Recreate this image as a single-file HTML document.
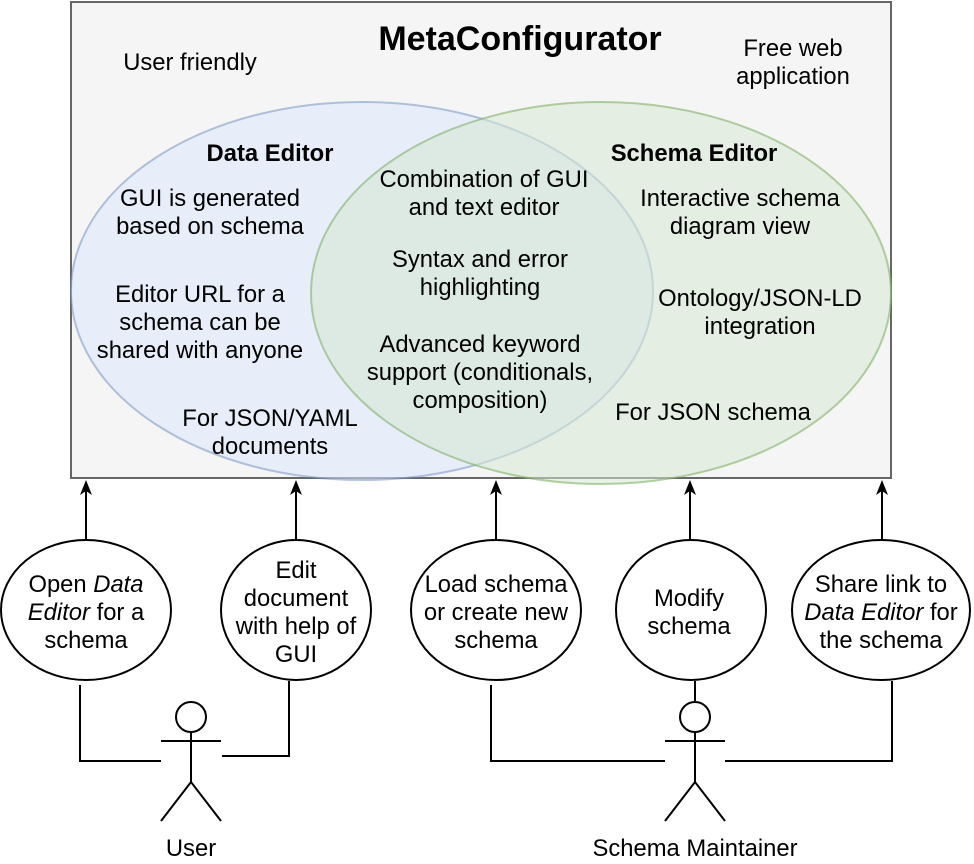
<!DOCTYPE html>
<html><head><meta charset="utf-8"><style>
html,body{margin:0;padding:0;background:#fff;}
svg{display:block;}
text{font-family:"Liberation Sans",Arial,sans-serif;font-size:23.8px;fill:#000;}
</style></head><body>
<svg width="974" height="864" viewBox="0 0 974 864" xmlns="http://www.w3.org/2000/svg">
<rect x="71" y="2" width="820" height="476" fill="#f5f5f5" stroke="#666" stroke-width="2"/>
<ellipse cx="362" cy="291" rx="291" ry="189" fill="#dae8fc" fill-opacity="0.55" stroke="#6c8ebf" stroke-opacity="0.5" stroke-width="2"/>
<ellipse cx="601" cy="293" rx="290" ry="191" fill="#d5e8d4" fill-opacity="0.55" stroke="#82b366" stroke-opacity="0.6" stroke-width="2"/>
<text x="520" y="50" text-anchor="middle" font-weight="bold" style="font-size:34px">MetaConfigurator</text>
<text x="190" y="70" text-anchor="middle">User friendly</text>
<text x="793" y="56" text-anchor="middle">Free web</text>
<text x="793" y="84" text-anchor="middle">application</text>
<text x="270" y="161" text-anchor="middle" font-weight="bold">Data Editor</text>
<text x="694" y="161" text-anchor="middle" font-weight="bold">Schema Editor</text>
<g text-anchor="middle">
<text x="210" y="206">GUI is generated</text><text x="210" y="234">based on schema</text>
<text x="200" y="302">Editor URL for a</text><text x="200" y="330">schema can be</text><text x="200" y="358">shared with anyone</text>
<text x="270" y="426">For JSON/YAML</text><text x="270" y="454">documents</text>
<text x="484" y="187">Combination of GUI</text><text x="484" y="215">and text editor</text>
<text x="480" y="267">Syntax and error</text><text x="480" y="295">highlighting</text>
<text x="480" y="352">Advanced keyword</text><text x="480" y="380">support (conditionals,</text><text x="480" y="408">composition)</text>
<text x="740" y="206">Interactive schema</text><text x="740" y="234">diagram view</text>
<text x="760" y="306">Ontology/JSON-LD</text><text x="760" y="334">integration</text>
<text x="713" y="420">For JSON schema</text>
</g>
<g stroke="#000" stroke-width="2" fill="none">
<line x1="86" y1="540" x2="86" y2="490"/><line x1="296" y1="540" x2="296" y2="490"/><line x1="496" y1="540" x2="496" y2="490"/><line x1="690" y1="540" x2="690" y2="490"/><line x1="882" y1="540" x2="882" y2="490"/>
<ellipse cx="86" cy="610" rx="85" ry="70" fill="#fff"/>
<ellipse cx="296" cy="610" rx="75" ry="70" fill="#fff"/>
<ellipse cx="496" cy="610" rx="85" ry="70" fill="#fff"/>
<ellipse cx="691" cy="610" rx="75" ry="70" fill="#fff"/>
<ellipse cx="881" cy="610" rx="89" ry="70" fill="#fff"/>
<polyline points="80,685 80,761 161,761"/>
<polyline points="289,681 289,756 222,756"/>
<polyline points="491,685 491,761 665,761"/>
<polyline points="725,761 892,761 892,681"/>
<line x1="695" y1="681" x2="695" y2="702"/>
<circle cx="191" cy="717" r="15" fill="#fff"/>
<line x1="191" y1="732" x2="191" y2="782"/><line x1="161" y1="741" x2="221" y2="741"/>
<polyline points="161,821 191,782 221,821"/>
<circle cx="695" cy="717" r="15" fill="#fff"/>
<line x1="695" y1="732" x2="695" y2="782"/><line x1="665" y1="741" x2="725" y2="741"/>
<polyline points="665,821 695,782 725,821"/>
</g>
<g fill="#000">
<path d="M86,480 L80,495 L86,491 L92,495Z"/><path d="M296,480 L290,495 L296,491 L302,495Z"/><path d="M496,480 L490,495 L496,491 L502,495Z"/><path d="M690,480 L684,495 L690,491 L696,495Z"/><path d="M882,480 L876,495 L882,491 L888,495Z"/>
</g>
<g text-anchor="middle">
<text x="86" y="592">Open <tspan font-style="italic">Data</tspan></text><text x="86" y="620"><tspan font-style="italic">Editor</tspan> for a</text><text x="86" y="648">schema</text>
<text x="296" y="578">Edit</text><text x="296" y="606">document</text><text x="296" y="634">with help of</text><text x="296" y="662">GUI</text>
<text x="496" y="592">Load schema</text><text x="496" y="620">or create new</text><text x="496" y="648">schema</text>
<text x="689" y="606">Modify</text><text x="689" y="634">schema</text>
<text x="881" y="592">Share link to</text><text x="881" y="620"><tspan font-style="italic">Data Editor</tspan> for</text><text x="881" y="648">the schema</text>
<text x="191" y="856">User</text>
<text x="695" y="856">Schema Maintainer</text>
</g>
</svg>
</body></html>
